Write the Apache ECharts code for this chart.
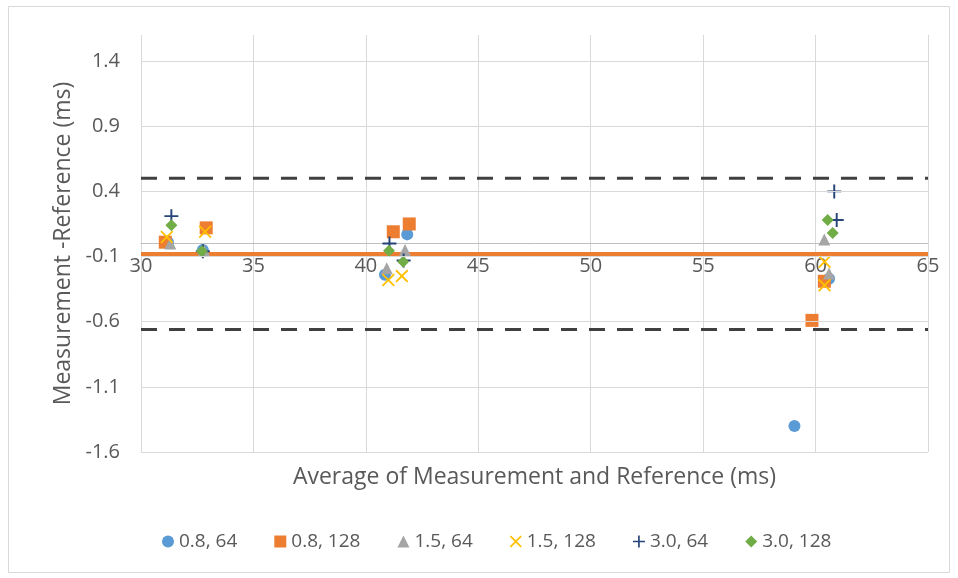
<!DOCTYPE html>
<html><head><meta charset="utf-8">
<script src="https://cdn.jsdelivr.net/npm/echarts@6/dist/echarts.min.js"></script>
<style>html,body{margin:0;padding:0;background:#fff}#c{width:958px;height:578px}</style>
</head><body><div id="c"></div>
<script>
// ---- data ----
const seriesNames = ['0.8, 64', '0.8, 128', '1.5, 64', '1.5, 128', '3.0, 64', '3.0, 128'];
const s08_64  = [[31.2, 0.01], [32.75, -0.05], [40.85, -0.24], [41.84, 0.07], [60.6, -0.27], [59.06, -1.40]];
const s08_128 = [[31.08, 0.01], [32.9, 0.12], [41.22, 0.09], [41.93, 0.15], [60.39, -0.29], [59.84, -0.59]];
const s15_64  = [[31.3, 0.0], [32.8, -0.05], [40.93, -0.19], [41.74, -0.05], [60.39, 0.03], [60.6, -0.23]];
const s15_128 = [[31.15, 0.05], [32.85, 0.09], [41.0, -0.28], [41.6, -0.25], [60.4, -0.14], [60.4, -0.32]];
const s30_64  = [[31.35, 0.21], [32.75, -0.06], [41.05, 0.0], [41.68, -0.13], [60.83, 0.40], [60.94, 0.18]];
const s30_128 = [[31.35, 0.14], [32.71, -0.06], [41.03, -0.055], [41.66, -0.14], [60.54, 0.18], [60.76, 0.08]];
const meanBias = -0.08;
const upperLoA = 0.50;
const lowerLoA = -0.66;
const xRange = [30, 65];
const xTicks = [30, 35, 40, 45, 50, 55, 60, 65];
const yTicks = [-1.6, -1.1, -0.6, -0.1, 0.4, 0.9, 1.4];
const yRange = [-1.6, 1.6];
const xCross = 0; // horizontal axis crosses the vertical axis at this value

// ---- chart ----
const FONT = 'Open Sans';
const TXT = '#595959';
const W = 958, H = 578;
const G = {left: 141, right: 30, top: 35, bottom: 126};
const plotH = H - G.top - G.bottom;
const axisOffset = -plotH * (xCross - yRange[0]) / (yRange[1] - yRange[0]);
const plusPath = 'path://M4.3,0 H5.7 V4.3 H10 V5.7 H5.7 V10 H4.3 V5.7 H0 V4.3 H4.3 Z';
const xPath = 'path://M0,1 L1,0 L5,4 L9,0 L10,1 L6,5 L10,9 L9,10 L5,6 L1,10 L0,9 L4,5 Z';
const specs = [
  {d: s08_64,  c: '#5B9BD5', sym: 'circle',  size: 12},
  {d: s08_128, c: '#ED7D31', sym: 'rect',    size: 13},
  {d: s15_64,  c: '#A5A5A5', sym: 'triangle',size: 12},
  {d: s15_128, c: '#FFC000', sym: xPath,     size: 13},
  {d: s30_64,  c: '#264478', sym: plusPath,  size: 14},
  {d: s30_128, c: '#70AD47', sym: 'diamond', size: 12}
];
const chart = echarts.init(document.getElementById('c'), null, {renderer: 'canvas'});
const series = [];
series.push({
  type: 'line', data: [], silent: true, z: 0,
  markLine: {silent: true, symbol: 'none', label: {show: false},
    lineStyle: {color: '#d9d9d9', width: 1, type: 'solid'},
    data: yTicks.map(v => ({yAxis: v}))}
});
series.push({type: 'line', data: [[xRange[0], upperLoA], [xRange[1], upperLoA]], symbol: 'none', silent: true,
  lineStyle: {color: '#404040', width: 3, type: [16, 12]}, z: 1});
series.push({type: 'line', data: [[xRange[0], lowerLoA], [xRange[1], lowerLoA]], symbol: 'none', silent: true,
  lineStyle: {color: '#404040', width: 3, type: [16, 12]}, z: 1});
series.push({type: 'line', data: [[xRange[0], meanBias], [xRange[1], meanBias]], symbol: 'none', silent: true,
  lineStyle: {color: '#ED7D31', width: 4}, z: 1});
specs.forEach((s, i) => {
  series.push({name: seriesNames[i], type: 'scatter', data: s.d, symbol: s.sym, symbolSize: s.size,
    itemStyle: {color: s.c, opacity: 1}, z: 3});
});
chart.setOption({
  animation: false,
  backgroundColor: '#fff',
  textStyle: {fontFamily: FONT},
  graphic: [{type: 'rect', shape: {x: 8.5, y: 6.5, width: 941, height: 566},
    style: {fill: 'none', stroke: '#d9d9d9', lineWidth: 1}, silent: true}],
  grid: Object.assign({containLabel: false, outerBoundsMode: 'none'}, G),
  legend: {
    bottom: 22, left: 157, itemWidth: 12, itemHeight: 12, itemGap: 37,
    textStyle: {color: TXT, fontSize: 19, fontFamily: FONT},
    data: seriesNames.map((n, i) => ({name: n, icon: specs[i].sym}))
  },
  xAxis: {
    type: 'value', min: xRange[0], max: xRange[1], interval: 5, offset: axisOffset,
    name: 'Average of Measurement and Reference (ms)', nameLocation: 'middle', nameGap: 222,
    nameTextStyle: {color: TXT, fontSize: 23, fontFamily: FONT},
    axisLine: {onZero: false, lineStyle: {color: '#bfbfbf', width: 1}},
    axisTick: {show: false},
    axisLabel: {color: TXT, fontSize: 20, margin: 13, fontFamily: FONT},
    splitLine: {show: true, lineStyle: {color: '#d9d9d9', width: 1}}
  },
  yAxis: {
    type: 'value', min: yRange[0], max: yRange[1], interval: 0.5,
    name: 'Measurement -Reference (ms)', nameLocation: 'middle', nameGap: 65, nameRotate: 90,
    nameTextStyle: {color: TXT, fontSize: 23, fontFamily: FONT},
    axisLine: {show: false}, axisTick: {show: false},
    axisLabel: {color: TXT, fontSize: 20, margin: 21, fontFamily: FONT,
      formatter: v => {
        const k = (v - yRange[0]) / 0.5;
        return Math.abs(k - Math.round(k)) < 1e-6 && v < yRange[1] - 0.05 ? v.toFixed(1) : '';
      }},
    splitLine: {show: false}
  },
  series: series
});
</script></body></html>
